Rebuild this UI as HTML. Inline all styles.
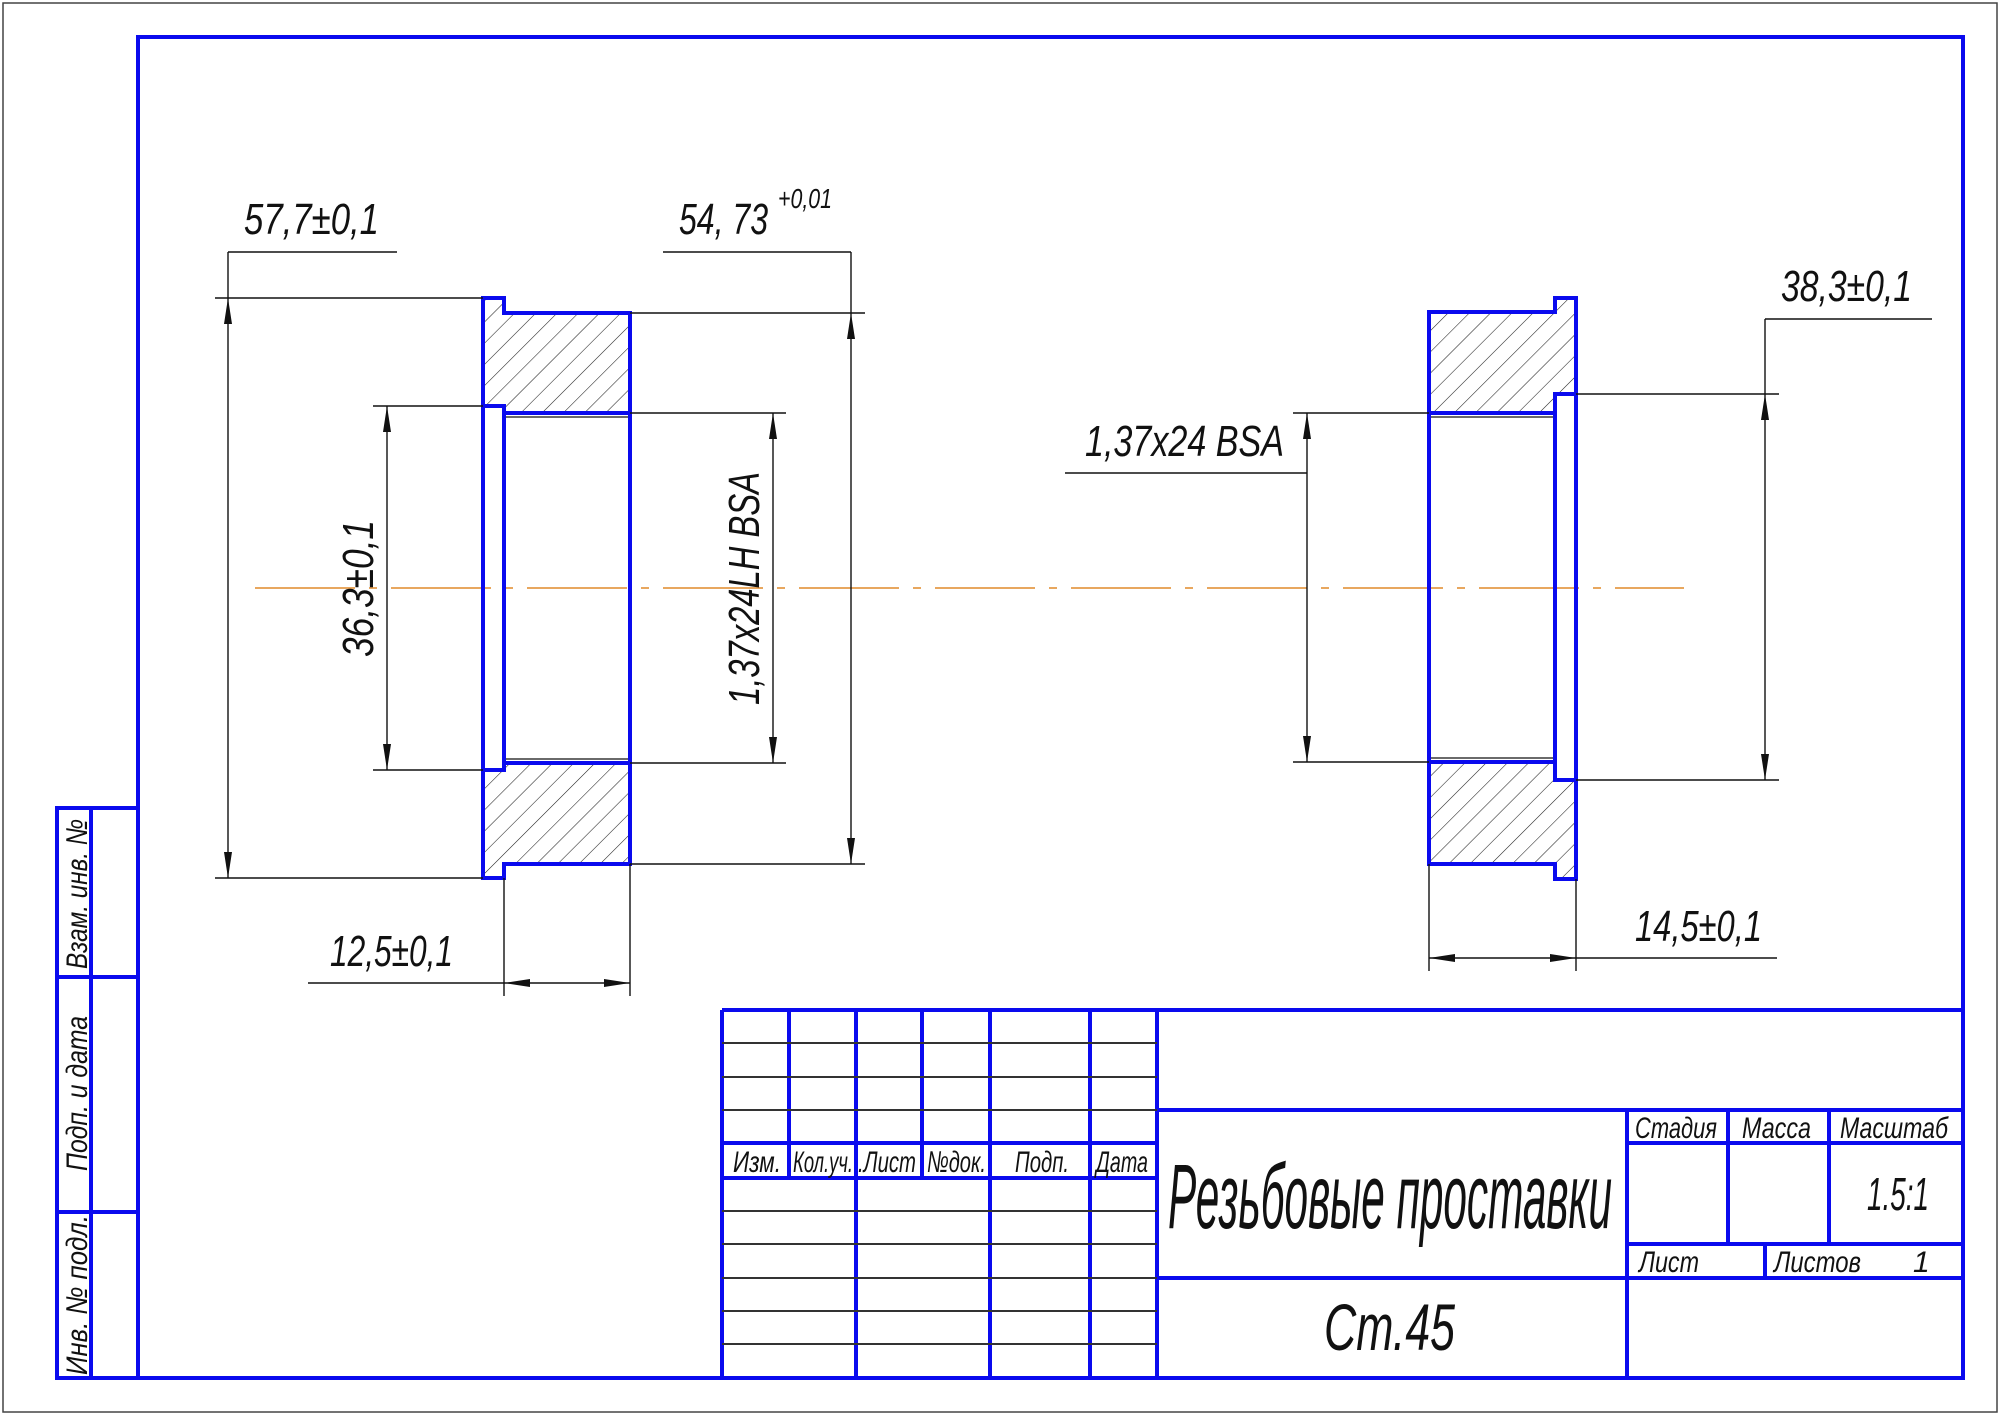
<!DOCTYPE html>
<html><head><meta charset="utf-8"><style>html,body{margin:0;padding:0;background:#fff}svg{display:block}</style></head>
<body>
<svg width="2000" height="1416" viewBox="0 0 2000 1416" xmlns="http://www.w3.org/2000/svg" font-family="Liberation Sans, DejaVu Sans, sans-serif" font-style="italic">
<defs>
<pattern id="h" patternUnits="userSpaceOnUse" width="15" height="15" patternTransform="rotate(45)">
<line x1="0" y1="0" x2="0" y2="15" stroke="#222" stroke-width="1.1"/>
</pattern>
</defs>
<rect x="3" y="3" width="1994" height="1409" fill="none" stroke="#444" stroke-width="1.5"/>
<g stroke="#0a0aee" stroke-width="4" fill="none">
<rect x="138" y="37" width="1825" height="1341"/>
<!-- left stamp -->
<rect x="57" y="808" width="81" height="570"/>
<line x1="91" y1="808" x2="91" y2="1378"/>
<line x1="57" y1="977" x2="138" y2="977"/>
<line x1="57" y1="1212" x2="138" y2="1212"/>
<!-- title block -->
<line x1="722" y1="1010" x2="1963" y2="1010"/>
<line x1="722" y1="1010" x2="722" y2="1378"/>
<line x1="789" y1="1010" x2="789" y2="1178"/>
<line x1="856" y1="1010" x2="856" y2="1378"/>
<line x1="922" y1="1010" x2="922" y2="1178"/>
<line x1="990" y1="1010" x2="990" y2="1378"/>
<line x1="1090" y1="1010" x2="1090" y2="1378"/>
<line x1="1157" y1="1010" x2="1157" y2="1378"/>
<line x1="722" y1="1143" x2="1157" y2="1143"/>
<line x1="722" y1="1178" x2="1157" y2="1178"/>
<line x1="1157" y1="1110" x2="1963" y2="1110"/>
<line x1="1157" y1="1278" x2="1963" y2="1278"/>
<line x1="1627" y1="1110" x2="1627" y2="1378"/>
<line x1="1627" y1="1143" x2="1963" y2="1143"/>
<line x1="1728" y1="1110" x2="1728" y2="1244"/>
<line x1="1829" y1="1110" x2="1829" y2="1244"/>
<line x1="1627" y1="1244" x2="1963" y2="1244"/>
<line x1="1765" y1="1244" x2="1765" y2="1278"/>
</g>
<g stroke="#333" stroke-width="2">
<line x1="722" y1="1043" x2="1157" y2="1043"/>
<line x1="722" y1="1077" x2="1157" y2="1077"/>
<line x1="722" y1="1110" x2="1157" y2="1110"/>
<line x1="722" y1="1211" x2="1157" y2="1211"/>
<line x1="722" y1="1244" x2="1157" y2="1244"/>
<line x1="722" y1="1278" x2="1157" y2="1278"/>
<line x1="722" y1="1311" x2="1157" y2="1311"/>
<line x1="722" y1="1344" x2="1157" y2="1344"/>
</g>
<!-- centerline -->
<line x1="255" y1="588" x2="1684" y2="588" stroke="#e08a2a" stroke-width="1.6" stroke-dasharray="100,14,8,14"/>
<!-- hatching -->
<path d="M483,298 H504 V313 H630 V413 H504 V406 H483 Z M483,770 H504 V763 H630 V864 H504 V878 H483 Z" fill="url(#h)"/>
<path d="M1576,298 H1555 V312 H1429 V413 H1555 V394 H1576 Z M1576,780 H1555 V762 H1429 V864 H1555 V879 H1576 Z" fill="url(#h)"/>
<g stroke="#111" stroke-width="1.3">
<line x1="504" y1="417" x2="630" y2="417"/><line x1="504" y1="759" x2="630" y2="759"/>
<line x1="1429" y1="417" x2="1555" y2="417"/><line x1="1429" y1="758" x2="1555" y2="758"/>
</g>
<g stroke="#0a0aee" stroke-width="4" fill="none" stroke-linejoin="miter">
<path d="M483,298 H504 V313 H630 V864 H504 V878 H483 Z"/>
<rect x="483" y="406" width="21" height="364"/>
<line x1="504" y1="413" x2="630" y2="413"/><line x1="504" y1="763" x2="630" y2="763"/>
<path d="M1576,298 H1555 V312 H1429 V864 H1555 V879 H1576 Z"/>
<rect x="1555" y="394" width="21" height="386"/>
<line x1="1429" y1="413" x2="1555" y2="413"/><line x1="1429" y1="762" x2="1555" y2="762"/>
</g>
<!-- dimension lines -->
<g stroke="#111" stroke-width="1.4" fill="none">
<line x1="215" y1="298" x2="483" y2="298"/><line x1="215" y1="878" x2="483" y2="878"/>
<line x1="228" y1="252" x2="228" y2="878"/><line x1="228" y1="252" x2="397" y2="252"/>
<line x1="630" y1="313" x2="865" y2="313"/><line x1="630" y1="864" x2="865" y2="864"/>
<line x1="851" y1="252" x2="851" y2="864"/><line x1="663" y1="252" x2="851" y2="252"/>
<line x1="373" y1="406" x2="483" y2="406"/><line x1="373" y1="770" x2="483" y2="770"/>
<line x1="387" y1="406" x2="387" y2="770"/>
<line x1="630" y1="413" x2="786" y2="413"/><line x1="630" y1="763" x2="786" y2="763"/>
<line x1="773" y1="413" x2="773" y2="763"/>
<line x1="504" y1="878" x2="504" y2="996"/><line x1="630" y1="864" x2="630" y2="996"/>
<line x1="308" y1="983" x2="630" y2="983"/>
<line x1="1293" y1="413" x2="1429" y2="413"/><line x1="1293" y1="762" x2="1429" y2="762"/>
<line x1="1307" y1="413" x2="1307" y2="762"/><line x1="1065" y1="473" x2="1307" y2="473"/>
<line x1="1576" y1="394" x2="1779" y2="394"/><line x1="1576" y1="780" x2="1779" y2="780"/>
<line x1="1765" y1="319" x2="1765" y2="780"/><line x1="1765" y1="319" x2="1932" y2="319"/>
<line x1="1429" y1="864" x2="1429" y2="971"/><line x1="1576" y1="879" x2="1576" y2="971"/>
<line x1="1429" y1="958" x2="1777" y2="958"/>
</g>
<g fill="#111">
<path d="M228,298 l-4,26 h8z"/><path d="M228,878 l-4,-26 h8z"/>
<path d="M851,313 l-4,26 h8z"/><path d="M851,864 l-4,-26 h8z"/>
<path d="M387,406 l-4,26 h8z"/><path d="M387,770 l-4,-26 h8z"/>
<path d="M773,413 l-4,26 h8z"/><path d="M773,763 l-4,-26 h8z"/>
<path d="M504,983 l26,-4 v8z"/><path d="M630,983 l-26,-4 v8z"/>
<path d="M1307,413 l-4,26 h8z"/><path d="M1307,762 l-4,-26 h8z"/>
<path d="M1765,394 l-4,26 h8z"/><path d="M1765,780 l-4,-26 h8z"/>
<path d="M1429,958 l26,-4 v8z"/><path d="M1576,958 l-26,-4 v8z"/>
</g>
<!-- dimension text -->
<g fill="#111" font-size="44" lengthAdjust="spacingAndGlyphs">
<text x="244" y="234" textLength="135" lengthAdjust="spacingAndGlyphs">57,7±0,1</text>
<text x="679" y="234" textLength="89" lengthAdjust="spacingAndGlyphs">54, 73</text>
<text x="778" y="208" font-size="28" textLength="54" lengthAdjust="spacingAndGlyphs">+0,01</text>
<text x="330" y="966" textLength="123" lengthAdjust="spacingAndGlyphs">12,5±0,1</text>
<text transform="translate(373,657) rotate(-90)" textLength="137" lengthAdjust="spacingAndGlyphs">36,3±0,1</text>
<text transform="translate(759,705) rotate(-90)" textLength="233" lengthAdjust="spacingAndGlyphs">1,37x24LH BSA</text>
<text x="1085" y="456" textLength="199" lengthAdjust="spacingAndGlyphs">1,37x24 BSA</text>
<text x="1781" y="301" textLength="131" lengthAdjust="spacingAndGlyphs">38,3±0,1</text>
<text x="1635" y="941" textLength="127" lengthAdjust="spacingAndGlyphs">14,5±0,1</text>
</g>
<!-- stamp text -->
<g fill="#111" font-size="30">
<text transform="translate(87,969) rotate(-90)" textLength="150" lengthAdjust="spacingAndGlyphs">Взам. инв. №</text>
<text transform="translate(87,1171) rotate(-90)" textLength="155" lengthAdjust="spacingAndGlyphs">Подп. и дата</text>
<text transform="translate(87,1375) rotate(-90)" textLength="160" lengthAdjust="spacingAndGlyphs">Инв. № подл.</text>
<text x="733" y="1172" textLength="48" lengthAdjust="spacingAndGlyphs">Изм.</text>
<text x="793" y="1172" textLength="60" lengthAdjust="spacingAndGlyphs">Кол.уч.</text>
<text x="858" y="1172" textLength="58" lengthAdjust="spacingAndGlyphs">.Лист</text>
<text x="927" y="1172" textLength="59" lengthAdjust="spacingAndGlyphs">№док.</text>
<text x="1015" y="1172" textLength="54" lengthAdjust="spacingAndGlyphs">Подп.</text>
<text x="1096" y="1172" textLength="52" lengthAdjust="spacingAndGlyphs">Дата</text>
<text x="1635" y="1138" textLength="82" lengthAdjust="spacingAndGlyphs">Стадия</text>
<text x="1742" y="1138" textLength="69" lengthAdjust="spacingAndGlyphs">Масса</text>
<text x="1840" y="1138" textLength="108" lengthAdjust="spacingAndGlyphs">Масштаб</text>
<text x="1639" y="1272" textLength="60" lengthAdjust="spacingAndGlyphs">Лист</text>
<text x="1774" y="1272" textLength="87" lengthAdjust="spacingAndGlyphs">Листов</text>
<text x="1913" y="1272">1</text>
<text x="1867" y="1210" font-size="46" textLength="62" lengthAdjust="spacingAndGlyphs">1.5:1</text>
<text x="1168" y="1228" font-size="92" textLength="444" lengthAdjust="spacingAndGlyphs">Резьбовые проставки</text>
<text x="1324" y="1350" font-size="66" textLength="131" lengthAdjust="spacingAndGlyphs">Ст.45</text>
</g>
</svg>
</body></html>
